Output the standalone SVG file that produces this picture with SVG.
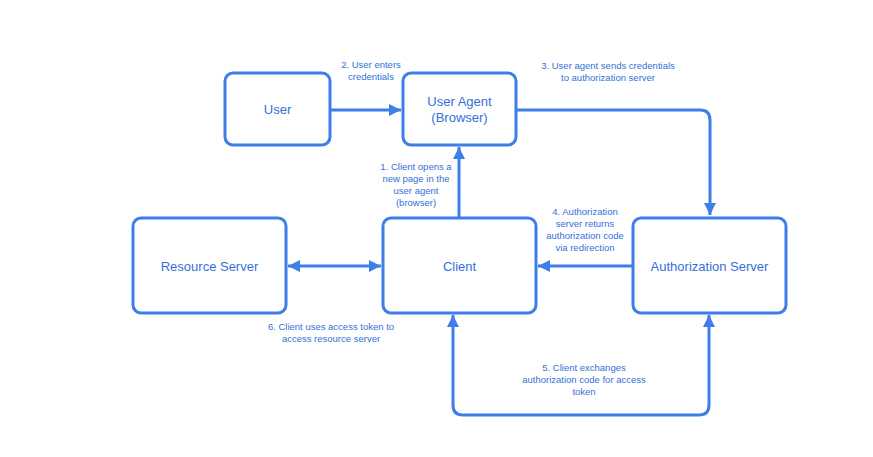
<svg xmlns="http://www.w3.org/2000/svg" width="873" height="457" viewBox="0 0 873 457">
<style>
.box{fill:#fff;stroke:#3d7fe6;stroke-width:3}
.node{font-family:"Liberation Sans",Arial,sans-serif;font-size:13px;fill:#3470d8;text-anchor:middle}
.lbl{font-family:"Liberation Sans",Arial,sans-serif;font-size:9.5px;fill:#3470d8;text-anchor:middle}
.edge{fill:none;stroke:#3d7fe6;stroke-width:3}
</style>
<defs>
<marker id="ah" viewBox="0 0 10 10" refX="10" refY="5" markerWidth="4" markerHeight="4" orient="auto-start-reverse" markerUnits="strokeWidth">
<path d="M0,0 L10,5 L0,10 z" fill="#3d7fe6"/>
</marker>
</defs>
<rect width="873" height="457" fill="#fff"/>
<g id="connectors">
<path class="edge" d="M331,110 H401" marker-end="url(#ah)"/>
<path class="edge" d="M517,110 H700 Q710,110 710,120 V215" marker-end="url(#ah)"/>
<path class="edge" d="M459,217 V147" marker-end="url(#ah)"/>
<path class="edge" d="M632,266 H538" marker-end="url(#ah)"/>
<path class="edge" d="M288,266 H381" marker-start="url(#ah)" marker-end="url(#ah)"/>
<path class="edge" d="M453,315 V405 Q453,415 463,415 H699 Q709,415 709,405 V315" marker-start="url(#ah)" marker-end="url(#ah)"/>
<text class="lbl" x="371" y="68">2. User enters</text>
<text class="lbl" x="371" y="80">credentials</text>
<text class="lbl" x="608" y="69">3. User agent sends credentials</text>
<text class="lbl" x="608" y="81">to authorization server</text>
<text class="lbl" x="416" y="170">1. Client opens a</text>
<text class="lbl" x="416" y="182">new page in the</text>
<text class="lbl" x="416" y="194">user agent</text>
<text class="lbl" x="416" y="206">(browser)</text>
<text class="lbl" x="585" y="215">4. Authorization</text>
<text class="lbl" x="585" y="227">server returns</text>
<text class="lbl" x="585" y="239">authorization code</text>
<text class="lbl" x="585" y="251">via redirection</text>
<text class="lbl" x="331" y="330">6. Client uses access token to</text>
<text class="lbl" x="331" y="342">access resource server</text>
<text class="lbl" x="584" y="371">5. Client exchanges</text>
<text class="lbl" x="584" y="383">authorization code for access</text>
<text class="lbl" x="584" y="395">token</text>
</g>
<g id="user">
<rect class="box" x="225" y="73" width="105" height="72" rx="8"/>
<text class="node" x="277.5" y="114">User</text>
</g>
<g id="user-agent">
<rect class="box" x="403" y="73" width="113" height="72" rx="8"/>
<text class="node" x="459.5" y="106">User Agent</text>
<text class="node" x="459.5" y="122">(Browser)</text>
</g>
<g id="resource-server">
<rect class="box" x="133" y="218" width="153" height="95" rx="8"/>
<text class="node" x="209.5" y="271">Resource Server</text>
</g>
<g id="client">
<rect class="box" x="383" y="218" width="153" height="95" rx="8"/>
<text class="node" x="459.5" y="271">Client</text>
</g>
<g id="authorization-server">
<rect class="box" x="633" y="218" width="153" height="95" rx="8"/>
<text class="node" x="709.5" y="271">Authorization Server</text>
</g>
</svg>
